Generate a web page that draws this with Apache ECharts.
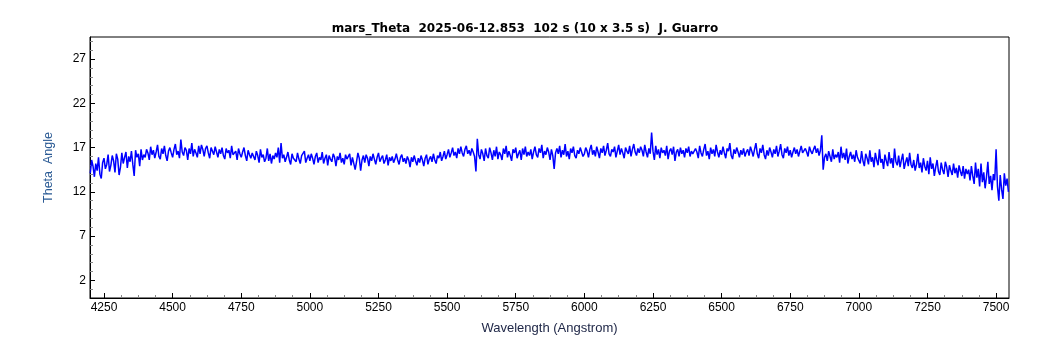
<!DOCTYPE html>
<html>
<head>
<meta charset="utf-8">
<script src="https://cdn.jsdelivr.net/npm/echarts@6/dist/echarts.min.js"></script>
<style>html,body{margin:0;padding:0;background:#fff}#c{width:1050px;height:350px}</style>
</head>
<body>
<div id="c"></div>
<script>
// Sampling grid of the spectrum (Angstrom)
const wlStart = 4200;
const wlStep = 5;
// Theta angle values, 5 A apart, one 200 A block per row
const theta = [
  14.1,15.6,14.9,13.7,15.2,14.4,15.9,14.0,13.5,15.3,15.8,14.6,15.1,16.2,14.3,15.0,16.1,15.5,14.2,16.3,15.7,13.9,14.8,16.4,15.2,15.9,16.5,14.7,16.0,15.4,16.6,15.1,13.8,16.7,15.9,16.3,14.9,16.8,15.6,16.2,
  15.9,16.8,16.4,15.6,17.1,16.2,16.7,15.8,16.5,17.3,16.0,15.7,16.9,16.3,17.2,16.1,15.5,16.6,17.0,16.4,15.9,16.8,17.4,16.2,16.6,15.8,17.9,16.5,16.1,17.0,16.7,15.6,16.9,16.3,17.5,16.0,16.8,16.4,15.9,17.2,
  16.3,17.3,16.8,16.0,16.9,17.2,16.4,15.8,17.0,16.6,16.2,17.1,16.5,15.9,16.8,16.3,17.0,16.1,15.7,16.9,16.4,16.7,15.8,17.2,16.2,16.0,16.6,15.6,16.9,16.3,15.9,16.5,17.0,16.1,15.5,16.7,16.2,15.8,16.4,16.0,
  15.6,16.6,16.1,15.3,16.8,15.9,16.2,15.4,15.8,16.9,15.5,16.3,15.2,16.1,15.7,16.4,15.9,17.0,15.3,17.5,15.8,16.2,15.4,15.9,16.5,15.6,15.1,16.3,15.8,16.0,15.4,16.4,15.7,15.2,16.1,15.9,16.6,15.3,15.8,16.2,
  15.5,16.3,15.8,15.1,16.0,16.4,15.3,15.9,15.6,16.5,15.2,15.8,16.2,15.0,16.1,15.7,15.4,16.3,15.9,14.9,16.0,15.6,16.4,15.3,15.8,15.1,16.2,15.7,15.5,16.3,15.0,15.9,16.1,14.5,15.4,16.4,15.8,14.4,15.6,16.1,
  15.3,16.2,15.8,14.9,16.0,15.5,16.3,15.7,15.1,15.9,16.4,15.4,15.8,16.1,15.2,15.6,16.2,15.0,15.9,15.5,16.0,15.3,15.7,16.3,15.6,15.1,15.9,16.2,15.4,15.8,15.2,16.0,15.6,14.8,15.9,15.4,16.1,15.5,15.0,15.8,
  15.3,16.1,15.6,14.9,15.8,16.2,15.1,15.7,16.0,15.4,16.3,15.6,15.2,16.1,15.8,16.5,15.5,16.0,16.6,15.7,16.2,16.8,15.9,16.4,17.0,16.1,16.5,15.8,16.9,16.3,17.1,16.4,16.0,16.8,17.2,16.3,16.7,16.1,16.9,16.5,
  16.0,14.3,18.0,16.2,15.7,16.8,16.3,15.5,16.9,16.1,15.8,17.0,16.4,15.6,16.7,16.0,17.1,15.7,16.5,16.2,15.6,16.9,16.3,17.2,15.9,16.6,16.1,15.5,16.8,16.4,17.0,15.8,16.3,16.7,15.6,16.9,16.2,17.1,16.0,16.5,
  16.1,16.8,15.7,16.5,17.1,16.2,15.9,16.9,16.4,17.3,15.8,16.6,16.2,17.0,16.5,15.6,16.8,16.1,14.6,16.4,16.9,16.3,17.2,15.9,16.7,16.2,17.4,16.0,16.6,15.7,16.9,16.4,17.1,16.1,15.8,16.7,16.3,17.0,16.5,16.0,
  16.3,17.0,16.6,15.9,16.8,17.3,16.2,16.7,16.0,17.1,16.5,15.8,16.9,16.4,17.2,16.1,16.7,17.5,16.3,16.0,16.8,16.5,17.1,15.9,16.6,17.3,16.2,16.9,16.4,15.8,17.0,16.6,16.3,17.2,16.0,16.8,17.4,16.5,16.1,16.9,
  16.4,17.1,16.7,16.0,17.3,16.5,15.9,16.9,16.3,18.7,16.6,15.6,17.2,16.2,16.8,15.8,17.0,16.4,16.7,16.1,17.2,15.7,16.6,16.9,16.2,17.1,15.5,16.5,16.8,16.0,17.0,16.3,16.7,15.9,16.9,16.4,17.1,16.0,16.6,16.3,
  16.2,16.9,16.5,15.8,17.2,16.4,16.0,16.8,17.4,16.1,16.6,15.7,17.0,16.3,16.8,16.0,17.3,16.5,15.9,16.7,16.2,17.1,16.4,15.8,16.9,16.6,17.5,16.1,15.7,16.8,16.3,17.0,16.5,15.9,16.7,16.2,16.9,16.0,16.5,16.8,
  16.1,17.1,16.6,16.0,16.8,17.5,16.3,15.8,16.9,16.4,17.3,16.2,15.7,16.7,16.1,17.0,16.5,15.9,16.8,16.3,17.2,16.0,16.6,17.4,16.2,15.8,16.9,16.4,17.1,16.1,16.7,15.9,16.5,17.0,16.3,16.8,16.0,16.6,17.2,16.4,
  16.2,16.9,16.5,16.0,17.1,16.6,16.3,16.8,17.2,16.4,16.9,16.1,16.7,18.4,14.5,15.9,16.3,15.5,16.6,16.0,15.4,16.8,15.7,16.2,15.9,16.5,15.3,17.1,15.8,16.4,15.6,16.9,15.2,16.0,16.5,15.7,16.2,15.4,16.7,15.9,
  16.0,15.2,16.6,15.5,14.9,16.3,15.8,15.1,16.7,15.4,15.9,14.8,16.4,15.6,15.0,16.8,15.3,15.7,14.6,16.2,15.5,14.9,16.5,15.2,15.8,14.7,16.9,15.4,15.0,16.1,14.8,15.6,16.3,14.6,15.3,15.9,14.9,16.4,15.1,14.7,
  15.6,14.4,15.1,16.3,14.7,15.3,14.2,15.8,14.9,14.4,15.5,14.0,15.9,14.6,15.2,13.8,14.8,15.6,14.3,13.9,15.3,14.5,14.0,15.4,14.8,13.7,15.0,14.4,13.9,15.2,14.1,14.7,13.6,15.0,14.3,13.8,14.9,13.5,14.6,14.0,
  14.5,13.3,14.9,13.8,12.9,15.3,13.6,14.6,12.6,15.2,13.1,14.2,12.4,13.7,15.4,12.9,13.8,12.2,14.0,13.3,16.8,12.6,11.0,13.9,12.3,11.2,14.1,12.7,13.5,12.0
];
const xTicks = [4250,4500,4750,5000,5250,5500,5750,6000,6250,6500,6750,7000,7250,7500];
const xMinorTicks = [4312.5,4375,4437.5,4562.5,4625,4687.5,4812.5,4875,4937.5,5062.5,5125,5187.5,5312.5,5375,5437.5,5562.5,5625,5687.5,5812.5,5875,5937.5,6062.5,6125,6187.5,6312.5,6375,6437.5,6562.5,6625,6687.5,6812.5,6875,6937.5,7062.5,7125,7187.5,7312.5,7375,7437.5];
const yTicks = [2,7,12,17,22,27];
const yMinorTicks = [1,3,4,5,6,8,9,10,11,13,14,15,16,18,19,20,21,23,24,25,26,28,29];
const xMin = 4199, xMax = 7547, yMin = 0, yMax = 29.5;
const titleText = 'mars_Theta  2025-06-12.853  102 s (10 x 3.5 s)  J. Guarro';

const points = theta.map((v, i) => [wlStart + i * wlStep, v]);
const font = 'Liberation Sans, Arial, sans-serif';

const chart = echarts.init(document.getElementById('c'), null, {renderer: 'canvas'});
chart.setOption({
  animation: false,
  backgroundColor: '#fff',
  title: {
    text: titleText, left: 'center', top: 18,
    textStyle: {fontFamily: 'DejaVu Sans, sans-serif', fontSize: 12, fontWeight: 'bold', color: '#000'}
  },
  grid: {left: 90, right: 41, top: 37, bottom: 52, show: true, borderColor: '#000', borderWidth: 1, backgroundColor: '#fff'},
  xAxis: [{
    type: 'value', min: xMin, max: xMax,
    name: 'Wavelength (Angstrom)', nameLocation: 'middle', nameGap: 24,
    nameTextStyle: {fontFamily: font, fontSize: 13, color: '#202848'},
    axisLine: {show: true, lineStyle: {color: '#000', width: 1}},
    axisTick: {show: true, inside: true, length: 5, customValues: xTicks, lineStyle: {color: '#000'}},
    axisLabel: {customValues: xTicks, formatter: v => String(v), fontFamily: font, fontSize: 12, color: '#000', margin: 4},
    splitLine: {show: false}
  }, {
    type: 'value', min: xMin, max: xMax, position: 'bottom',
    axisLine: {show: false},
    axisTick: {show: true, inside: true, length: 3, customValues: xMinorTicks, lineStyle: {color: '#888'}},
    axisLabel: {show: false},
    splitLine: {show: false}
  }],
  yAxis: [{
    type: 'value', min: yMin, max: yMax,
    name: 'Theta  Angle', nameLocation: 'middle', nameGap: 35,
    nameTextStyle: {fontFamily: font, fontSize: 12.5, color: '#2a5a94'},
    axisLine: {show: true, lineStyle: {color: '#000', width: 1}},
    axisTick: {show: true, inside: true, length: 5, customValues: yTicks, lineStyle: {color: '#000'}},
    axisLabel: {customValues: yTicks, formatter: v => String(v), fontFamily: font, fontSize: 12, color: '#000', margin: 4},
    splitLine: {show: false}
  }, {
    type: 'value', min: yMin, max: yMax, position: 'left',
    axisLine: {show: false},
    axisTick: {show: true, inside: true, length: 3, customValues: yMinorTicks, lineStyle: {color: '#888'}},
    axisLabel: {show: false},
    splitLine: {show: false}
  }],
  series: [{
    type: 'line', data: points, xAxisIndex: 0, yAxisIndex: 0,
    showSymbol: false, symbol: 'none',
    lineStyle: {color: '#0000ff', width: 1.5},
    clip: true
  }]
});
</script>
</body>
</html>
